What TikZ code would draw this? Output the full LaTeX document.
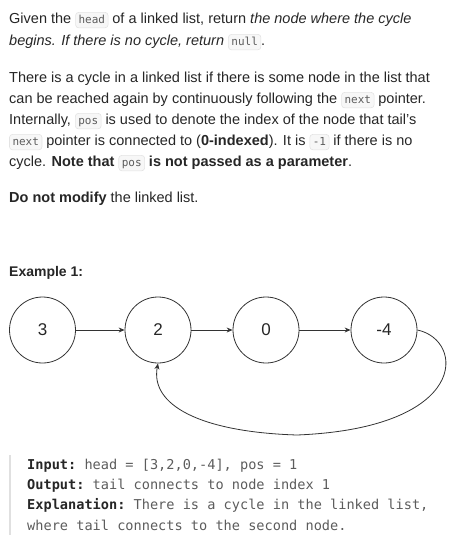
\documentclass[tikz,border=0pt]{standalone}
\usepackage{fontspec}
\setmainfont{Liberation Sans}
\setmonofont{DejaVu Sans Mono}
\usetikzlibrary{arrows.meta}
\definecolor{txt}{HTML}{262626}
\definecolor{codebg}{HTML}{F7F7F7}
\definecolor{codeborder}{HTML}{E3E3E3}
\definecolor{codetxt}{HTML}{5C5C5C}
\definecolor{bar}{HTML}{E0E0E0}
\definecolor{linec}{HTML}{333333}
\tikzset{
  icode/.style={fill=codebg, draw=codeborder, line width=0.6pt, rounded corners=3pt,
    inner xsep=3pt, inner ysep=2.6pt, text height=8pt, text depth=2.2pt,
    font=\fontsize{11}{13}\selectfont\ttfamily\mdseries\upshape, text=codetxt},
  para/.style={anchor=base west, inner sep=0pt, text=txt, font=\fontsize{14.5}{21}\selectfont},
  cline/.style={anchor=base west, inner sep=0pt, text=codetxt, font=\fontsize{13.6}{20}\selectfont\ttfamily},
  lnode/.style={circle, draw=linec, line width=0.8pt, minimum size=66pt, inner sep=0pt,
    font=\fontsize{17}{20}\selectfont, text=txt},
  link/.style={draw=linec, line width=0.8pt, -{Stealth[length=6pt,width=5pt]}}
}
\newcommand\ic[1]{\tikz[baseline=(X.base)]\node[icode](X){#1};}
\begin{document}
\begin{tikzpicture}[x=1pt,y=1pt]
\useasboundingbox (0,0) rectangle (450,-544);
\node[para] (l1) at (9,-23) {Given the \ic{head} of a linked list, return \textit{the node where the cycle}};
\node[para] (l2) at (9,-45) {\textit{begins. If there is no cycle, return} \ic{null}.};
\node[para] (l3) at (9,-82) {There is a cycle in a linked list if there is some node in the list that};
\node[para] (l4) at (9,-103) {can be reached again by continuously following the \ic{next} pointer.};
\node[para] (l5) at (9,-124) {Internally, \ic{pos} is used to denote the index of the node that tail’s};
\node[para] (l6) at (9,-145) {\ic{next} pointer is connected to (\textbf{0-indexed}). It is \ic{-1} if there is no};
\node[para] (l7) at (9,-166) {cycle. \textbf{Note that \ic{pos} is not passed as a parameter}.};
\node[para] (l8) at (9,-202) {\textbf{Do not modify} the linked list.};
\node[para, font=\fontsize{14}{20}\selectfont\bfseries] (l9) at (9,-276) {Example 1:};

\node[lnode] (n3) at (42.5,-330) {3};
\node[lnode] (n2) at (158,-330) {2};
\node[lnode] (n0) at (266,-330) {0};
\node[lnode] (n4) at (384,-330) {-4};
\draw[link] (n3) -- (n2);
\draw[link] (n2) -- (n0);
\draw[link] (n0) -- (n4);
\coordinate (bot) at (297,-435);
\draw[link] (n4.east) .. controls (465,-340) and (470,-428) .. (bot)
  .. controls (200,-432) and (150,-405) .. (n2.south);

\draw[bar, line width=2pt] (10,-455) coordinate (b1) -- (10,-535) coordinate (b2);
\node[cline] (c1) at (27,-469) {\textcolor{txt}{\bfseries Input:} head = [3,2,0,-4], pos = 1};
\node[cline] (c2) at (27,-489) {\textcolor{txt}{\bfseries Output:} tail connects to node index 1};
\node[cline] (c3) at (27,-509) {\textcolor{txt}{\bfseries Explanation:} There is a cycle in the linked list,};
\node[cline] (c4) at (27,-530) {where tail connects to the second node.};
\end{tikzpicture}
\end{document}
